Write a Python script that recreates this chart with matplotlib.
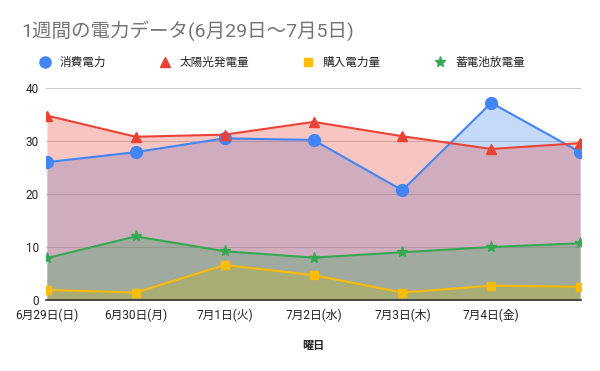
import matplotlib
matplotlib.use('Agg')
import matplotlib.pyplot as plt
from matplotlib.lines import Line2D
import numpy as np

plt.rcParams['font.family'] = ['Roboto', 'Noto Sans CJK JP', 'DejaVu Sans']

days = ['6月29日(日)', '6月30日(月)', '7月1日(火)', '7月2日(水)',
        '7月3日(木)', '7月4日(金)', '7月5日(土)']
consumption = [26.0, 27.9, 30.5, 30.2, 20.7, 37.2, 27.9]
solar = [34.8, 30.8, 31.2, 33.6, 30.9, 28.5, 29.6]
purchased = [1.9, 1.4, 6.6, 4.7, 1.4, 2.7, 2.5]
battery = [7.9, 12.0, 9.2, 8.0, 9.0, 10.0, 10.7]

# name, values, colour, marker, plot marker size, legend marker size
series = [
    ('消費電力', consumption, '#4285F4', 'o', 8.5, 8),
    ('太陽光発電量', solar, '#EA4335', '^', 7.2, 7.7),
    ('購入電力量', purchased, '#FBBC04', 's', 6.3, 6.3),
    ('蓄電池放電量', battery, '#34A853', '*', 8, 8),
]

fig = plt.figure(figsize=(6, 3.71), dpi=100)
W, H = 600, 371
ax = fig.add_axes([46 / W, 71 / H, 535 / W, 212 / H])

x = np.arange(len(days))
for name, vals, color, marker, ms, _ in series:
    ax.fill_between(x, 0, vals, color=color, alpha=0.3, linewidth=0, zorder=2)
    ax.plot(x, vals, color=color, linewidth=1.5, marker=marker, markersize=ms,
            zorder=3)

ax.set_xticks(x)
ax.set_xticklabels(days)
ax.get_xticklabels()[-1].set_visible(False)  # no room for the last label
ax.set_xlim(-0.01, 6.01)
ax.set_ylim(0, 40)
ax.set_yticks([0, 10, 20, 30, 40])
ax.grid(axis='y', color='#cccccc', linewidth=0.8, zorder=1)
ax.set_axisbelow(True)
for s in ['top', 'right', 'left']:
    ax.spines[s].set_visible(False)
ax.spines['bottom'].set_color('#333333')
ax.spines['bottom'].set_linewidth(1.2)
ax.spines['bottom'].set_zorder(4)

ax.tick_params(axis='both', length=0, labelsize=8.5, colors='#222222')
ax.tick_params(axis='x', pad=6)
ax.tick_params(axis='y', pad=5)
ax.set_xlabel('曜日', fontsize=8, color='#222222', fontweight='bold', labelpad=14)

fig.text(21 / W, 1 - 31 / H, '1週間の電力データ(6月29日～7月5日)', fontsize=14,
         color='#757575', va='center')

# legend drawn by hand to get the same item spacing
legend_x = [45, 165, 308, 440]
legend_y = 1 - 62 / H
for (name, _, color, marker, _, lms), lx in zip(series, legend_x):
    fig.add_artist(Line2D([lx / W], [legend_y], transform=fig.transFigure,
                          color=color, marker=marker, markersize=lms,
                          linestyle='none'))
    fig.text((lx + 15) / W, legend_y, name, fontsize=8.4, color='#222222',
             va='center')

fig.savefig('out.png', dpi=100)
